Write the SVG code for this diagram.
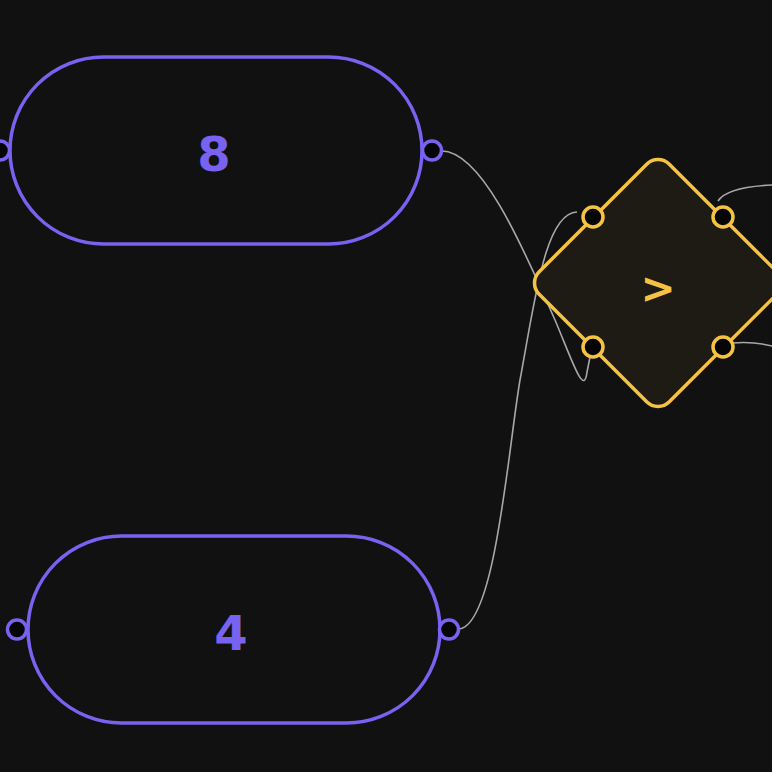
<svg xmlns="http://www.w3.org/2000/svg" width="772" height="772" viewBox="0 0 772 772">
<defs>
<style>
.pill{fill:#111111;stroke:#7763f0;stroke-width:3.5}
.pport{fill:#050505;stroke:#7763f0;stroke-width:3.5}
.ptxt{fill:#7763f0;font-family:"DejaVu Sans","Liberation Sans",sans-serif;font-weight:bold;font-size:48px;text-anchor:middle;dominant-baseline:central}
.dia{fill:#1e1b15;stroke:#f5c242;stroke-width:3.5}
.dport{fill:#050505;stroke:#f5c242;stroke-width:3.5}
.dtxt{fill:#f5c242;font-family:"DejaVu Sans","Liberation Sans",sans-serif;font-weight:bold;font-size:42px;text-anchor:middle;dominant-baseline:central}
.wire{fill:none;stroke:#a8a8a8;stroke-width:1.6}
</style>
</defs>
<rect width="772" height="772" fill="#111111"/>
<g id="connectors">
<path class="wire" d="M441,151 C480,150 520,240 555,320 C572,360 584,398 587,372 L590,357"/>
<path class="wire" d="M458,629 C495,629 508,450 520,380 C535,300 545,213 577,212"/>
<path class="wire" d="M718,201 C725,190 750,186 772,185"/>
<path class="wire" d="M733,343 C745,342 760,343 772,346"/>
</g>
<g id="node-8">
<rect class="pill" x="10" y="57" width="412" height="187" rx="93.5"/>
<circle class="pport" cx="0" cy="150.5" r="9.5"/>
<circle class="pport" cx="432" cy="150.5" r="9.5"/>
<text class="ptxt" x="214" y="154">8</text>
</g>
<g id="node-4">
<rect class="pill" x="28" y="536" width="412" height="187" rx="93.5"/>
<circle class="pport" cx="17" cy="629.5" r="9.5"/>
<circle class="pport" cx="449" cy="629.5" r="9.5"/>
<text class="ptxt" x="231" y="633">4</text>
</g>
<g id="node-gt">
<rect class="dia" x="566" y="191" width="184" height="184" rx="16" transform="rotate(45 658 283)"/>
<circle class="dport" cx="593" cy="217" r="10"/>
<circle class="dport" cx="723" cy="217" r="10"/>
<circle class="dport" cx="593" cy="347" r="10"/>
<circle class="dport" cx="723" cy="347" r="10"/>
<text class="dtxt" x="658" y="288">&gt;</text>
</g>
</svg>
